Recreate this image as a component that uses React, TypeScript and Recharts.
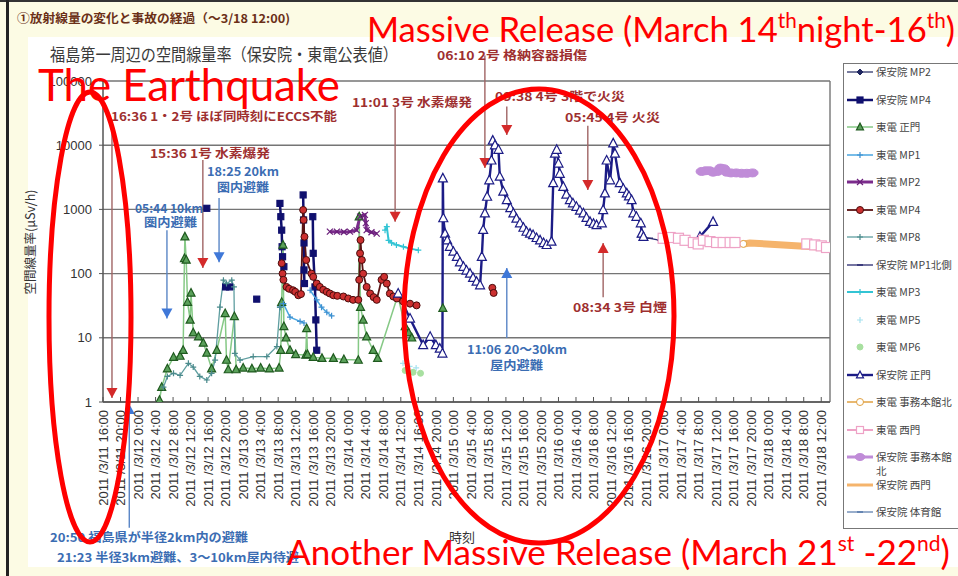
import React from 'react'
import {
  LineChart,
  Line,
  XAxis,
  YAxis,
  CartesianGrid,
  ReferenceLine,
  ReferenceDot,
  Legend,
} from 'recharts'

type Pt = [number, number | null]

// x = hours after 2011/3/11 16:00, y = μSv/h (log axis)
const TICK_LABELS = [
  '2011 /3/11 16:00', '2011 /3/11 20:00',
  '2011 /3/12 0:00', '2011 /3/12 4:00', '2011 /3/12 8:00', '2011 /3/12 12:00', '2011 /3/12 16:00', '2011 /3/12 20:00',
  '2011 /3/13 0:00', '2011 /3/13 4:00', '2011 /3/13 8:00', '2011 /3/13 12:00', '2011 /3/13 16:00', '2011 /3/13 20:00',
  '2011 /3/14 0:00', '2011 /3/14 4:00', '2011 /3/14 8:00', '2011 /3/14 12:00', '2011 /3/14 16:00', '2011 /3/14 20:00',
  '2011 /3/15 0:00', '2011 /3/15 4:00', '2011 /3/15 8:00', '2011 /3/15 12:00', '2011 /3/15 16:00', '2011 /3/15 20:00',
  '2011 /3/16 0:00', '2011 /3/16 4:00', '2011 /3/16 8:00', '2011 /3/16 12:00', '2011 /3/16 16:00', '2011 /3/16 20:00',
  '2011 /3/17 0:00', '2011 /3/17 4:00', '2011 /3/17 8:00', '2011 /3/17 12:00', '2011 /3/17 16:00', '2011 /3/17 20:00',
  '2011 /3/18 0:00', '2011 /3/18 4:00', '2011 /3/18 8:00', '2011 /3/18 12:00',
]
const X_TICKS = TICK_LABELS.map((_, i) => i * 4)
const Y_TICKS = [1, 10, 100, 1000, 10000, 100000]

const HOAN_MP2: Pt[] = []
const HOAN_MP4: Pt[] = [
  [23.7, 1040], [25, null],
  [28.0, 62], [28.9, 62], [30, null],
  [35.1, 40], [36, null],
  [40.4, 1240], [40.6, 770], [40.8, 475], [40.9, 262], [41.0, 183], [41.3, 128], [42, null],
  [45.7, 1680], [45.8, 685], [45.9, 300], [45.9, 114], [46.0, 70], [46.5, null],
  [47.9, 770], [48.0, 207], [48.4, 62], [48.6, 19], [48.8, 6.4],
]
const TEPCO_GATE: Pt[] = [
  [12.9, 1.07], [13.4, 1.7], [14.7, 3.3], [16.1, 5.0], [17.6, 5.2], [18.3, 6.4], [18.6, 172], [18.7, 375],
  [19.0, 163], [19.3, 36], [19.9, 19], [20.1, 50], [20.6, 12], [21.8, 10.4], [22.9, 8.3], [23.7, 5.8],
  [24.8, 3.3], [26.0, 6.4], [27.9, 24], [28.2, 4.5], [28.6, 3.2], [30.0, 21.5], [30.4, 3.2], [32.0, 3.4],
  [34.0, 3.3], [36.0, 3.4], [38.0, 3.3], [40.2, 3.4], [40.6, 6.4], [40.8, 36], [41.1, 280], [41.3, 15],
  [41.8, 10], [42.7, 6.4], [44.0, 5.5], [46.3, 5.4], [46.5, 14], [46.7, 5.5], [48.0, 5.0], [50.0, 4.8],
  [52.6, 4.8], [55.0, 4.6], [58.3, 4.5], [58.5, 770], [58.8, 30], [59.4, 19], [60.2, 10.4], [61.7, 6.4],
  [62.7, 4.8], [67.3, 45], [69.0, 15], [69.8, 12], [70.5, 10], [71, null], [77.6, 29],
]
const TEPCO_MP1: Pt[] = [
  [40.4, 30], [41.2, 34], [42.7, 21], [45.0, 18], [45.9, 17], [46.5, null],
  [47.3, 55], [48.8, 39], [49.9, 30], [51.1, 25], [52.2, 22],
]
const TEPCO_MP2: Pt[] = [
  [51.8, 450], [53.4, 450], [55.0, 445], [56.4, 450], [57.9, 475], [58.7, 770], [59.8, 820],
  [60.0, 610], [60.2, 475], [61.3, 440], [62.5, 420],
]
const TEPCO_MP4: Pt[] = [
  [40.8, 145], [41.0, 100], [41.2, 80], [41.9, 62], [42.5, 58], [43.4, 55], [43.9, 52], [44.6, 46],
  [45.2, 48], [45.7, 980], [45.8, 685], [46.0, 375], [46.4, 163], [47.6, 100], [48.0, 89], [48.8, 70],
  [49.5, 62], [50.3, 56], [51.1, 52], [51.8, 49], [52.6, 46], [53.5, 45], [54.9, 44], [56.0, 41],
  [57.1, 39], [58.3, 39], [58.5, 80], [58.7, 207], [58.8, 333], [59.1, 163], [59.4, 100], [60.2, 62],
  [61.0, 49], [61.8, 43], [62.5, 39], [63.6, 80], [64.2, 89], [64.8, 70], [65.5, 49], [66.3, 44],
  [67.1, 41], [68.5, 37], [70.1, 34], [71.6, 32], [72, null], [88.9, 60], [89.2, 50],
]
const TEPCO_MP8: Pt[] = [
  [13.8, 1.7], [14.7, 2.5], [16.1, 2.8], [17.6, 2.6], [19.5, 4.0], [20.6, 3.5], [22.1, 2.5], [23.7, 2.2],
  [24.8, 2.8], [25.6, 4.5], [26.7, 30], [27.5, 79], [28.2, 70], [29.4, 79], [29.9, 62], [30.1, 5.7],
  [31.3, 4.5], [34.3, 5.1], [37.4, 5.1], [39.7, 7.3], [40.4, 30],
]
const HOAN_MP1N: Pt[] = [[122.6, 375], [124.9, 355], [127.2, 330]]
const TEPCO_MP3: Pt[] = [
  [64.4, 475], [64.8, 540], [65.2, 330], [65.9, 300], [67.0, 280], [68.6, 262], [70.1, 245], [72.0, 232],
]
const TEPCO_MP5: Pt[] = [[68.5, 4.0], [70.0, 3.6], [71.5, 3.4]]
const TEPCO_MP6: Pt[] = [[69.0, 3.1], [70.8, 2.9], [72.5, 2.8]]
const HOAN_GATE: Pt[] = [
  [67.4, 49], [70.1, 20], [73.1, 7.7], [74.7, 10.4], [76.0, 7.7], [76.9, 6.8], [77.5, 5.7], [77.6, 3050],
  [77.7, 730], [78.1, 420], [78.6, 330], [79.2, 262], [80.0, 220], [80.8, 183], [81.5, 150], [82.3, 128],
  [83.0, 112], [83.8, 100], [84.5, 86], [85.3, 75], [86.1, 66],
  [86.5, 183], [86.8, 480], [87.2, 870], [87.7, 1580], [88.2, 2850], [88.7, 5800], [89.0, 11800], [89.5, 10000],
  [90.3, 8500], [90.6, 3240], [91.4, 1900], [92.2, 1400], [93.0, 1050], [93.7, 870], [94.4, 720], [95.2, 610],
  [96.0, 520], [96.7, 450], [97.5, 420], [98.2, 400], [99.0, 360], [99.8, 330], [100.6, 300],
  [101.3, 280], [102.4, 315], [102.8, 2570], [103.2, 7400], [103.6, 8500], [104.0, 5200], [104.3, 3600],
  [105.1, 2250], [105.8, 1700], [106.6, 1400], [107.3, 1250], [108.1, 1100], [108.9, 960], [109.7, 870],
  [110.4, 740], [111.2, 640], [112.0, 600], [112.7, 570], [113.9, 610],
  [114.2, 980], [114.6, 1780], [115.0, 5800], [115.8, 2850], [116.5, 10700], [116.9, 7400], [118.0, 2570],
  [118.8, 2100], [119.6, 1780], [120.1, 1600], [120.7, 1400], [121.1, 870], [121.8, 770], [122.8, 610],
  [123.0, 420], [123.4, 375],
  [124, null], [136.3, 375], [139.3, 640],
]
const TEPCO_HQ_N: Pt[] = [[144.3, 305], [146.2, 290]]
const TEPCO_WEST: Pt[] = [
  [127.9, 355], [129.5, 365], [131.4, 355], [132.9, 330], [134.8, 305], [135.9, 290], [137.1, 330],
  [138.6, 315], [140.1, 305], [141.6, 305], [143.2, 305], [144.3, 305], [145, null],
  [160.7, 290], [162.5, 280], [164.0, 270], [165.2, 255],
]
const HOAN_HQ_N: Pt[] = [
  [136.7, 3900], [137.6, 4000], [138.5, 4000], [139.3, 3800], [140.3, 3900], [141.0, 4400], [141.8, 4300],
  [142.4, 3800], [143.4, 3700], [144.6, 3700], [145.8, 3650], [147.0, 3650], [148.3, 3700],
]
const HOAN_WEST: Pt[] = [
  [146.2, 290], [147.7, 300], [151.5, 290], [155.3, 280], [159.1, 270], [162.9, 262], [165.2, 262],
]
const HOAN_GYM: Pt[] = []

// event arrows: time, start value, tip value
const ARROWS = [
  { t: 2.05, from: 23000, to: 1.15, c: 'red' },
  { t: 22.8, from: 5900, to: 122, c: 'red' },
  { t: 14.6, from: 475, to: 20, c: 'blue' },
  { t: 26.5, from: 1500, to: 150, c: 'blue' },
  { t: 66.7, from: 39000, to: 640, c: 'red' },
  { t: 87.2, from: 250000, to: 4400, c: 'red' },
  { t: 92.2, from: 40000, to: 14400, c: 'red' },
  { t: 110.7, from: 20000, to: 2000, c: 'red' },
  { t: 114.2, from: 43, to: 300, c: 'red' },
  { t: 92.2, from: 9.9, to: 122, c: 'blue' },
  { t: 6.0, from: 0.011, to: 0.93, c: 'blue' },
]

const RED_TXT = '#9e2f2f'
const BLUE_TXT = '#3b6db3'
const NOTES = [
  { x: 111, y: 121, text: '16:36 1・2号 ほぼ同時刻にECCS不能', c: RED_TXT, w: 226 },
  { x: 150, y: 158, text: '15:36 1号 水素爆発', c: RED_TXT, w: 120 },
  { x: 207, y: 176, text: '18:25 20km', c: BLUE_TXT, w: 72 },
  { x: 217, y: 192, text: '圏内避難', c: BLUE_TXT, w: 52 },
  { x: 135, y: 213, text: '05:44 10km', c: BLUE_TXT, w: 68 },
  { x: 144, y: 227, text: '圏内避難', c: BLUE_TXT, w: 53 },
  { x: 352, y: 107, text: '11:01 3号 水素爆発', c: RED_TXT, w: 120 },
  { x: 437, y: 60, text: '06:10 2号 格納容器損傷', c: RED_TXT, w: 150 },
  { x: 495, y: 101, text: '09:38 4号 3階で火災', c: RED_TXT, w: 130 },
  { x: 565, y: 122, text: '05:45 4号 火災', c: RED_TXT, w: 95 },
  { x: 573, y: 312, text: '08:34 3号 白煙', c: RED_TXT, w: 94 },
  { x: 467, y: 354, text: '11:06 20〜30km', c: BLUE_TXT, w: 100 },
  { x: 490, y: 370, text: '屋内避難', c: BLUE_TXT, w: 53 },
  { x: 50, y: 542, text: '20:50 福島県が半径2km内の避難', c: BLUE_TXT, w: 198 },
  { x: 57, y: 562, text: '21:23 半径3km避難、3〜10km屋内待避', c: BLUE_TXT, w: 242 },
]

const JP = '"Noto Sans CJK JP", sans-serif'
const SANS = '"Liberation Sans", Arial, sans-serif'

type Series = {
  name: string
  label?: string
  data: Pt[]
  color: string
  width: number
  marker: string
  size: number
  mStroke: string
  mFill: string
}

const SERIES: Series[] = [
  { name: '保安院 MP2', data: HOAN_MP2, color: '#1f2660', width: 1.2, marker: 'diamond', size: 3, mStroke: '#1f2660', mFill: '#1f2660' },
  { name: '保安院 MP4', data: HOAN_MP4, color: '#10106e', width: 2.5, marker: 'square', size: 3, mStroke: '#10106e', mFill: '#10106e' },
  { name: '東電 正門', data: TEPCO_GATE, color: '#86c986', width: 1.5, marker: 'tri', size: 4, mStroke: '#1f5a1f', mFill: '#5aa05a' },
  { name: '東電 MP1', data: TEPCO_MP1, color: '#4aa6e0', width: 1.5, marker: 'plus', size: 3, mStroke: '#3d8fd0', mFill: 'none' },
  { name: '東電 MP2', data: TEPCO_MP2, color: '#7b2c8c', width: 3, marker: 'cross', size: 3, mStroke: '#6a1f7a', mFill: 'none' },
  { name: '東電 MP4', data: TEPCO_MP4, color: '#5a1414', width: 1.8, marker: 'circle', size: 3.5, mStroke: '#4a0c0c', mFill: '#cc3030' },
  { name: '東電 MP8', data: TEPCO_MP8, color: '#5f9ea0', width: 1.3, marker: 'plus', size: 3, mStroke: '#4b8a8c', mFill: 'none' },
  { name: '保安院 MP1北側', data: HOAN_MP1N, color: '#2a2a70', width: 1.3, marker: 'dash', size: 3, mStroke: '#2a2a70', mFill: 'none' },
  { name: '東電 MP3', data: TEPCO_MP3, color: '#33c4d4', width: 2, marker: 'plus', size: 3, mStroke: '#33c4d4', mFill: 'none' },
  { name: '東電 MP5', data: TEPCO_MP5, color: '#a6e2ef', width: 0, marker: 'plus', size: 3, mStroke: '#a6e2ef', mFill: 'none' },
  { name: '東電 MP6', data: TEPCO_MP6, color: '#a8e0a0', width: 0, marker: 'circle', size: 3, mStroke: '#a8e0a0', mFill: '#a8e0a0' },
  { name: '保安院 正門', data: HOAN_GATE, color: '#1c1c86', width: 2.4, marker: 'tri', size: 4.5, mStroke: '#1c1c86', mFill: '#ffffff' },
  { name: '東電 事務本館北', data: TEPCO_HQ_N, color: '#e0a040', width: 1.5, marker: 'circle', size: 3.5, mStroke: '#e0a040', mFill: '#ffffff' },
  { name: '東電 西門', data: TEPCO_WEST, color: '#eea2c6', width: 2, marker: 'square', size: 5, mStroke: '#eea2c6', mFill: '#ffffff' },
  { name: '保安院 事務本館北', label: '保安院 事務本館\n北', data: HOAN_HQ_N, color: '#c08cd8', width: 3, marker: 'oval', size: 4, mStroke: '#c08cd8', mFill: '#c08cd8' },
  { name: '保安院 西門', data: HOAN_WEST, color: '#f5b46c', width: 7, marker: 'none', size: 0, mStroke: 'none', mFill: 'none' },
  { name: '保安院 体育館', data: HOAN_GYM, color: '#5577aa', width: 1.2, marker: 'dash', size: 3, mStroke: '#5577aa', mFill: 'none' },
]

function Mark({ kind, x, y, s, stroke, fill }: any) {
  if (kind === 'tri')
    return <polygon points={`${x},${y - s * 1.1} ${x - s},${y + s * 0.8} ${x + s},${y + s * 0.8}`} stroke={stroke} fill={fill} strokeWidth={1.2} />
  if (kind === 'square')
    return <rect x={x - s} y={y - s} width={2 * s} height={2 * s} stroke={stroke} fill={fill} strokeWidth={1.2} />
  if (kind === 'circle')
    return <circle cx={x} cy={y} r={s} stroke={stroke} fill={fill} strokeWidth={1} />
  if (kind === 'oval')
    return <ellipse cx={x} cy={y} rx={s * 1.4} ry={s} stroke={stroke} fill={fill} />
  if (kind === 'diamond')
    return <polygon points={`${x},${y - s} ${x + s},${y} ${x},${y + s} ${x - s},${y}`} stroke={stroke} fill={fill} />
  if (kind === 'plus')
    return <path d={`M${x - s},${y}H${x + s}M${x},${y - s}V${y + s}`} stroke={stroke} strokeWidth={1.2} />
  if (kind === 'cross')
    return <path d={`M${x - s},${y - s}L${x + s},${y + s}M${x - s},${y + s}L${x + s},${y - s}`} stroke={stroke} strokeWidth={1.2} />
  if (kind === 'dash')
    return <path d={`M${x - s},${y}H${x + s}`} stroke={stroke} strokeWidth={1.5} />
  return null
}

const toRows = (pts: Pt[]) => pts.map(([t, v]) => ({ t, v }))

function XTick({ x, y, payload }: any) {
  const label = TICK_LABELS[Math.round(payload.value / 4)]
  return (
    <g>
      <line x1={x} y1={y - 8} x2={x} y2={y - 13} stroke="#555" />
      <text
        x={x}
        y={y}
        dy="0.36em"
        transform={`rotate(-90 ${x} ${y})`}
        textAnchor="end"
        fontFamily={SANS}
        fontSize={13}
        fill="#333"
      >
        {label}
      </text>
    </g>
  )
}

function ArrowHead({ cx, cy, up, color }: any) {
  const h = up ? 10 : -10
  return <polygon points={`${cx},${cy} ${cx - 5.5},${cy + h} ${cx + 5.5},${cy + h}`} fill={color} />
}

function LegendBox() {
  return (
    <div
      style={{
        width: 135,
        height: 466,
        boxSizing: 'border-box',
        border: '1px solid #777',
        background: '#fff',
        paddingTop: 1,
        fontFamily: JP,
        fontSize: 10.5,
        color: '#444',
      }}
    >
      {SERIES.map((s) => (
        <div key={s.name} style={{ height: 27.5, display: 'flex', alignItems: 'flex-start' }}>
          <svg width={32} height={14} style={{ flex: 'none' }}>
            {s.width > 0 && (
              <line x1={3} x2={29} y1={7} y2={7} stroke={s.color} strokeWidth={Math.min(s.width, 3)} />
            )}
            <Mark kind={s.marker} x={16} y={7} s={Math.min(s.size, 3.5)} stroke={s.mStroke} fill={s.mFill} />
          </svg>
          <span style={{ lineHeight: '14px', whiteSpace: 'pre' }}>{s.label ?? s.name}</span>
        </div>
      ))}
    </div>
  )
}

export default function App() {
  return (
    <div style={{ position: 'absolute', left: 0, top: 0, width: 958, height: 576, overflow: 'hidden', background: '#fcfbe4' }}>
      <div style={{ position: 'absolute', left: 0, top: 0, width: 958, height: 2, background: '#333' }} />
      <div style={{ position: 'absolute', left: 6, top: 0, width: 3, height: 576, background: '#222' }} />
      <div style={{ position: 'absolute', left: 28, top: 37, width: 930, height: 530, background: '#fff' }} />
      <div style={{ position: 'absolute', left: 0, top: 0 }}>
        <LineChart width={958} height={576} margin={{ top: 81, right: 128, bottom: 34, left: 43 }}>
          <CartesianGrid vertical={false} stroke="#757575" strokeWidth={1.4} />
          <XAxis
            type="number"
            dataKey="t"
            domain={[0, 166]}
            ticks={X_TICKS}
            interval={0}
            allowDataOverflow
            height={140}
            tickSize={0}
            tickMargin={8}
            tick={<XTick />}
            axisLine={{ stroke: '#555', strokeWidth: 1.5 }}
          />
          <YAxis
            type="number"
            scale="log"
            domain={[1, 100000]}
            ticks={Y_TICKS}
            interval={0}
            allowDataOverflow
            width={60}
            tickSize={4}
            tickMargin={7}
            tick={{ fontFamily: SANS, fontSize: 13, fill: '#333' }}
            tickLine={{ stroke: '#555' }}
            axisLine={{ stroke: '#555', strokeWidth: 1.5 }}
          />
          <ReferenceLine x={166} stroke="#757575" strokeWidth={1.4} />
          {SERIES.map((s) => (
            <Line
              key={s.name}
              name={s.name}
              data={toRows(s.data)}
              dataKey="v"
              type="linear"
              stroke={s.width > 0 ? s.color : 'none'}
              strokeWidth={s.width}
              connectNulls={false}
              activeDot={false}
              isAnimationActive={false}
              dot={
                s.marker === 'none'
                  ? false
                  : (p: any) =>
                      p.cy == null || p.payload?.v == null ? (
                        <g key={`d${p.index}`} />
                      ) : (
                        <Mark key={`d${p.index}`} kind={s.marker} x={p.cx} y={p.cy} s={s.size} stroke={s.mStroke} fill={s.mFill} />
                      )
              }
            />
          ))}
          {ARROWS.map((a, i) => (
            <ReferenceLine
              key={`al${i}`}
              segment={[{ x: a.t, y: a.from }, { x: a.t, y: a.to }]}
              stroke={a.c === 'red' ? '#a06464' : '#5a86c6'}
              strokeWidth={1.4}
              ifOverflow="visible"
            />
          ))}
          {ARROWS.map((a, i) => (
            <ReferenceDot
              key={`ah${i}`}
              x={a.t}
              y={a.to}
              ifOverflow="visible"
              shape={(p: any) => (
                <ArrowHead cx={p.cx} cy={p.cy} up={a.to > a.from} color={a.c === 'red' ? '#d42a2a' : '#3f78d8'} />
              )}
            />
          ))}
          <Legend
            layout="vertical"
            align="center"
            verticalAlign="middle"
            content={() => <LegendBox />}
            wrapperStyle={{ left: 843, top: 63, width: 135 }}
          />
        </LineChart>
      </div>
      <svg
        width={958}
        height={576}
        style={{ position: 'absolute', left: 0, top: 0, pointerEvents: 'none' }}
      >
        <text x={17} y={23} fontFamily={JP} fontSize={12} fontWeight={700} fill="#6b3018" textLength={273} lengthAdjust="spacingAndGlyphs">
          ①放射線量の変化と事故の経過（〜3/18 12:00)
        </text>
        <text x={50} y={61} fontFamily={JP} fontSize={17} fill="#3a3a3a" textLength={348} lengthAdjust="spacingAndGlyphs">
          福島第一周辺の空間線量率（保安院・東電公表値）
        </text>
        <text transform="translate(35 242) rotate(-90)" textAnchor="middle" fontFamily={JP} fontSize={12.5} fill="#333">
          空間線量率(μSv/h)
        </text>
        <text x={462} y={542} textAnchor="middle" fontFamily={JP} fontSize={13} fill="#333">
          時刻
        </text>
        {NOTES.map((n, i) => (
          <text key={i} x={n.x} y={n.y} fontFamily={JP} fontSize={12} fontWeight={700} fill={n.c} textLength={n.w} lengthAdjust="spacingAndGlyphs">
            {n.text}
          </text>
        ))}
        <ellipse cx={90} cy={317} rx={41} ry={225} fill="none" stroke="#ff0000" strokeWidth={5} />
        <ellipse cx={539} cy={316} rx={135} ry={227} fill="none" stroke="#ff0000" strokeWidth={5} />
        <text x={38} y={101} fontFamily="Lato, 'Open Sans', sans-serif" fontSize={44} fill="#ff0000" textLength={302} lengthAdjust="spacingAndGlyphs">
          The Earthquake
        </text>
        <text x={367} y={42} fontFamily="Lato, 'Open Sans', sans-serif" fontSize={35} fill="#ff0000" textLength={588} lengthAdjust="spacingAndGlyphs">
          Massive Release (March 14<tspan dy={-14} fontSize={21}>th</tspan>
          <tspan dy={14}>night-16</tspan>
          <tspan dy={-14} fontSize={21}>th</tspan>
          <tspan dy={14}>)</tspan>
        </text>
        <text x={287} y={565} fontFamily="Lato, 'Open Sans', sans-serif" fontSize={35} fill="#ff0000" textLength={663} lengthAdjust="spacingAndGlyphs">
          Another Massive Release (March 21<tspan dy={-14} fontSize={21}>st</tspan>
          <tspan dy={14}> -22</tspan>
          <tspan dy={-14} fontSize={21}>nd</tspan>
          <tspan dy={14}>)</tspan>
        </text>
      </svg>
    </div>
  )
}
